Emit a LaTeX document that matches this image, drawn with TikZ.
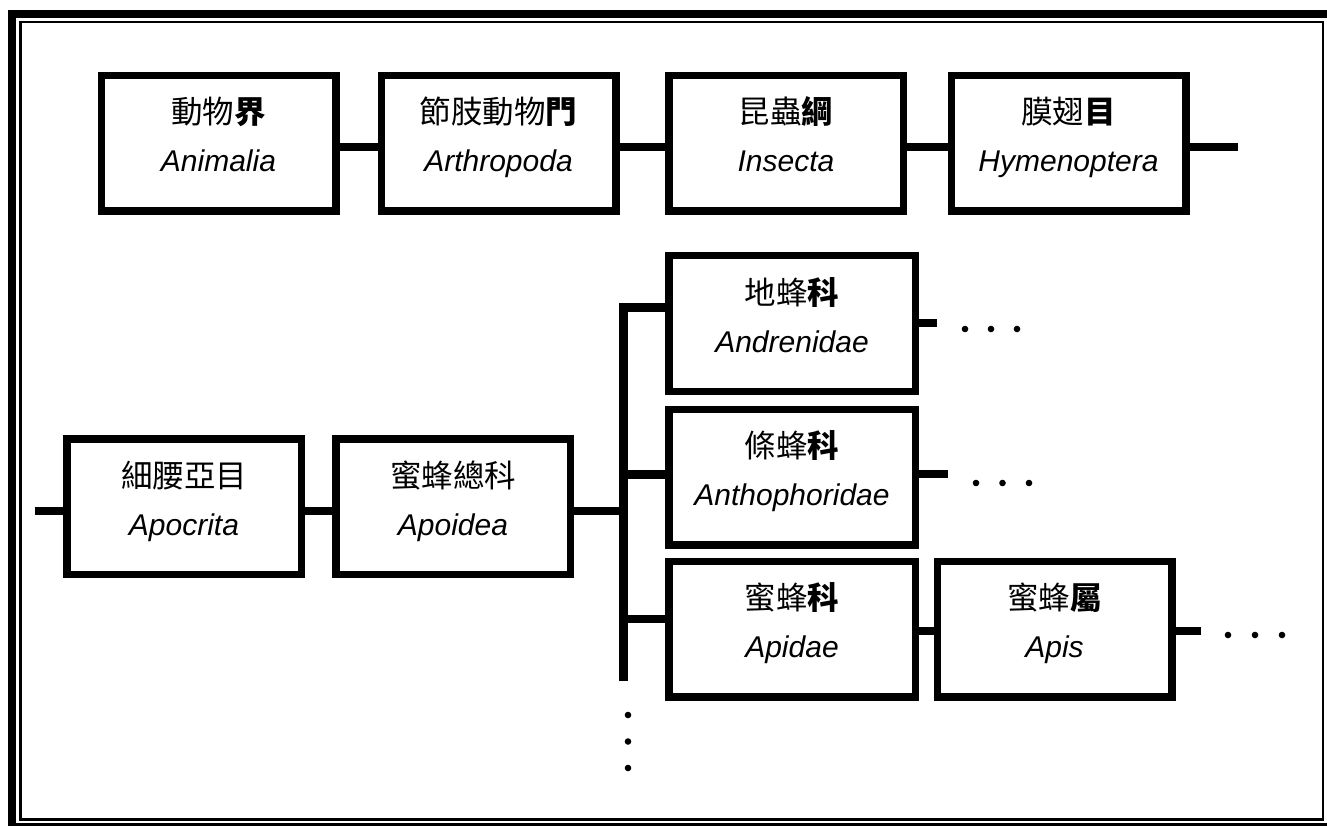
\documentclass[tikz,border=0pt]{standalone}
\usepackage{fontspec}
\setmainfont{Liberation Sans}
\newfontfamily\cjkfont{Noto Sans CJK TC}
\newcommand\taxon[3]{{\cjkfont\fontsize{31.5}{48}\selectfont\rule{0pt}{28pt}#1\textbf{#2}}\\{\itshape #3}\rule[-19pt]{0pt}{19pt}}

\begin{document}
\begin{tikzpicture}[x=1pt,y=-1pt,line join=miter]
\tikzset{taxbox/.style={draw,line width=7.5pt,minimum width=234.5pt,minimum height=135.5pt,inner sep=0pt,align=center,font=\fontsize{30}{48}\selectfont},
         fambox/.style={taxbox,minimum width=246.5pt},
         link/.style={draw,line width=8.5pt}}
\useasboundingbox (0,0) rectangle (1327,826);
\draw[line width=8pt] (12,14) rectangle (1331,827);
\draw[line width=2.4pt] (20.3,22) rectangle (1323.2,819.5);

\node[taxbox] (anim) at (218.5,143.5) {\taxon{動物}{界}{Animalia}};
\node[taxbox] (arth) at (498.5,143.5) {\taxon{節肢動物}{門}{Arthropoda}};
\node[taxbox] (inse) at (786,143.5) {\taxon{昆蟲}{綱}{Insecta}};
\node[taxbox] (hyme) at (1068.5,143.5) {\taxon{膜翅}{目}{Hymenoptera}};
\node[taxbox] (apoc) at (184,506.5) {\taxon{細腰亞目}{}{Apocrita}};
\node[taxbox] (apoi) at (453,506.5) {\taxon{蜜蜂總科}{}{Apoidea}};
\node[fambox] (andr) at (792,323.5) {\taxon{地蜂}{科}{Andrenidae}};
\node[fambox] (anth) at (792,477) {\taxon{條蜂}{科}{Anthophoridae}};
\node[fambox] (apid) at (792,629) {\taxon{蜜蜂}{科}{Apidae}};
\node[taxbox] (apis) at (1054.5,629) {\taxon{蜜蜂}{屬}{Apis}};

\coordinate (hend) at (1238,147);
\coordinate (lend) at (35,511);
\coordinate (fork) at (623.5,511);
\coordinate (ktop) at (623.5,307.5);
\coordinate (kbot) at (623.5,681);
\coordinate (br2) at (623.5,474.5);
\coordinate (br3) at (623.5,619);
\coordinate (s1) at (937,323);
\coordinate (s2) at (948,474);
\coordinate (s3) at (1201,631);

\draw[link] ([yshift=-3.5pt]anim.east) -- ([yshift=-3.5pt]arth.west);
\draw[link] ([yshift=-3.5pt]arth.east) -- ([yshift=-3.5pt]inse.west);
\draw[link] ([yshift=-3.5pt]inse.east) -- ([yshift=-3.5pt]hyme.west);
\draw[link] (hyme.east |- hend) -- (hend);
\draw[link] (lend) -- (apoc.west |- lend); \draw[link] (apoc.east |- lend) -- (apoi.west |- lend);
\draw[link] (apoi.east |- fork) -- (fork);
\draw[link] (kbot) -- (ktop) -- (andr.west |- ktop);
\draw[link] (br2) -- (anth.west |- br2); \draw[link] (br3) -- (apid.west |- br3);
\draw[link] ([yshift=-2pt]apid.east) -- ([yshift=-2pt]apis.west);
\draw[link] (andr.east |- s1) -- (s1); \draw[link] (anth.east |- s2) -- (s2); \draw[link] (apis.east |- s3) -- (s3);

\foreach \i in {0,1,2} {
  \fill (s1) ++(28+26*\i,6) circle (3.3pt);
  \fill (s2) ++(28+26.5*\i,9) circle (3.3pt);
  \fill (s3) ++(27+27*\i,4) circle (3.3pt);
  \fill (kbot) ++(4.5,34+26.5*\i) circle (3.3pt);
}
\end{tikzpicture}
\end{document}
